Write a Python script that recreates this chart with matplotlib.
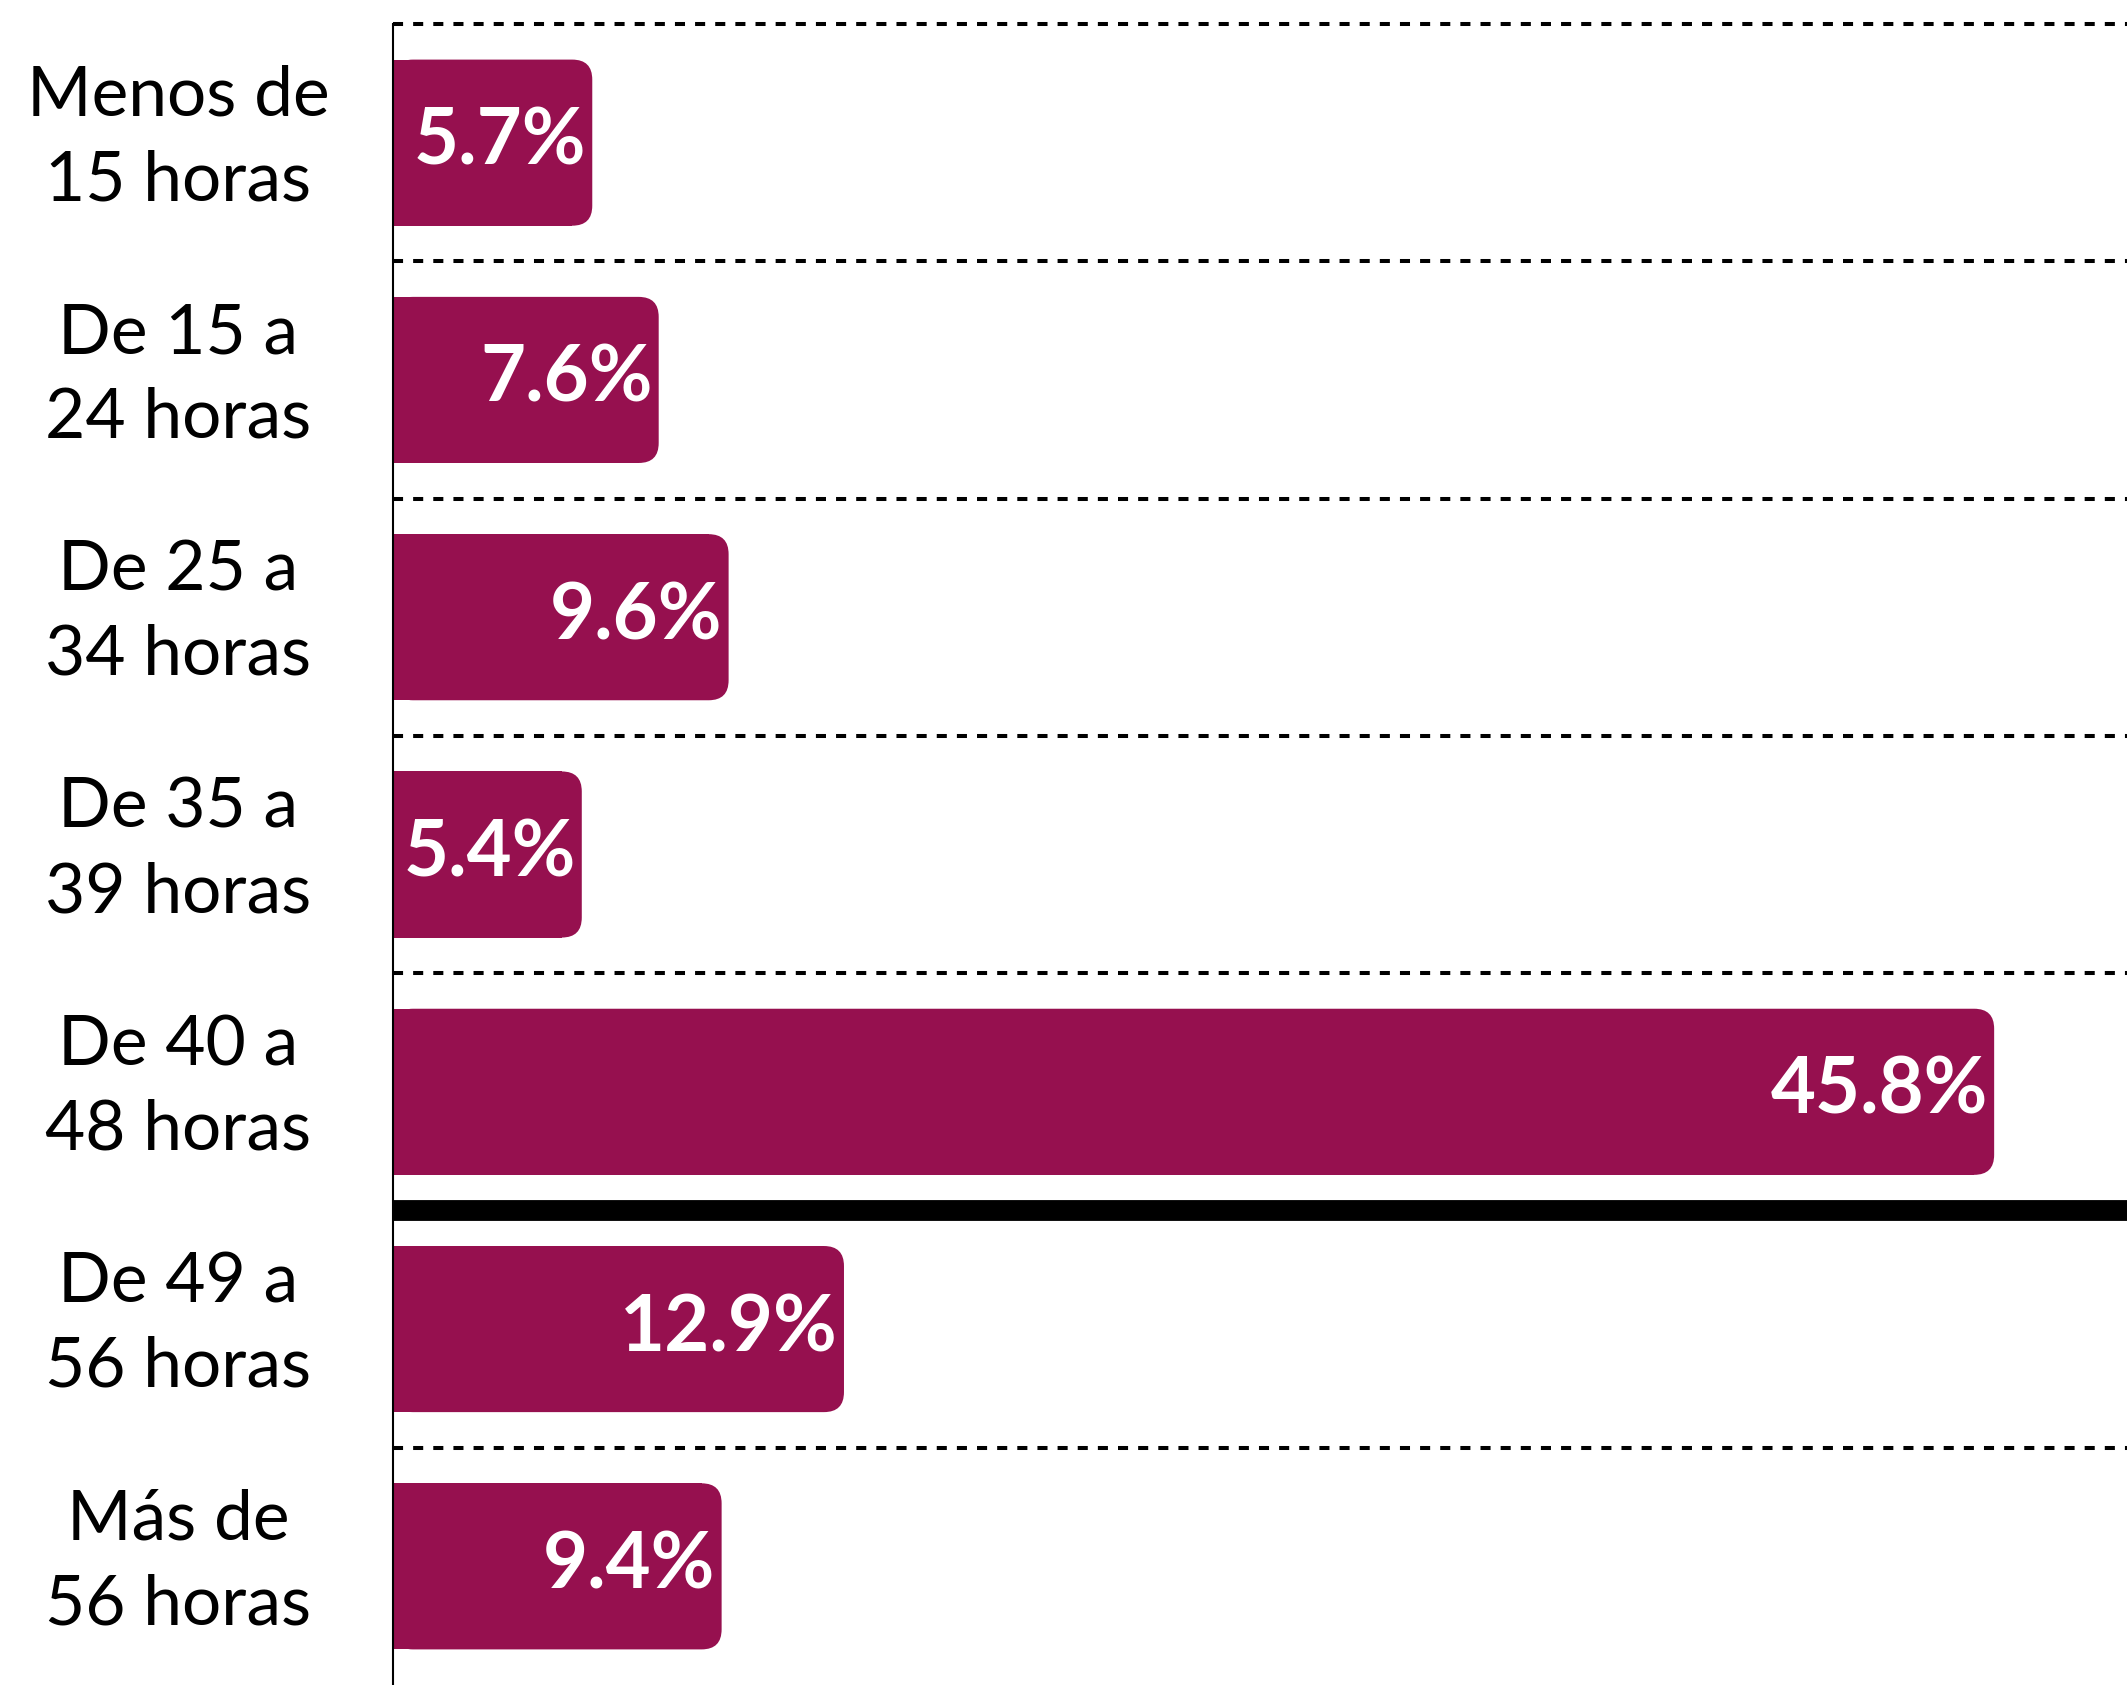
#!/usr/bin/env python3

import matplotlib
matplotlib.use('Agg')
import matplotlib.pyplot as plt
from matplotlib.patches import FancyBboxPatch

categories = ['Menos de\n15 horas', 'De 15 a\n24 horas', 'De 25 a\n34 horas',
              'De 35 a\n39 horas', 'De 40 a\n48 horas', 'De 49 a\n56 horas',
              'Más de\n56 horas']
values = [5.7, 7.6, 9.6, 5.4, 45.8, 12.9, 9.4]
labels = ['5.7%', '7.6%', '9.6%', '5.4%', '45.8%', '12.9%', '9.4%']

color = '#96104F'
plt.rcParams['font.family'] = ['Lato', 'DejaVu Sans']

W, H = 2127, 1685
fig = plt.figure(figsize=(W / 100, H / 100), dpi=100)
left = 393 / W
top = 1 - 24 / H
ax = fig.add_axes([left, 0, 1 - left, top])

xmax = 49.6
n = len(categories)
ax.set_xlim(0, xmax)
ax.set_ylim(n - 0.5, -0.5)

# pixel sizes of one data unit, for the rounded ends
px_x = W * (1 - left) / xmax
px_y = H * top / n
r = 20 / px_x
aspect = px_x / px_y

bar_h = 0.70
for i, v in enumerate(values):
    ax.barh(i, v - r, height=bar_h, color=color, linewidth=0)
    ax.add_patch(FancyBboxPatch((0, i - bar_h / 2), v, bar_h,
                                boxstyle='round,pad=0,rounding_size=%f' % r,
                                mutation_aspect=aspect,
                                facecolor=color, edgecolor='none'))
    ax.text(v - 6 / px_x, i, labels[i], ha='right', va='center',
            color='white', fontsize=56, fontweight='bold')

# category separators
for i in range(n):
    y = i - 0.5
    ax.axhline(y, color='black', lw=2.9, linestyle=(0, (2.5, 2.5)),
               clip_on=False, zorder=0)
ax.axhline(4.5, color='black', lw=15, zorder=3)

for i, c in enumerate(categories):
    fig.text(178 / W, 1 - (20 + px_y * (i + 0.5)) / H, c,
             ha='center', va='center', fontsize=50, linespacing=1.42,
             color='black')

ax.set_xticks([])
ax.set_yticks([])
for s in ['top', 'right', 'bottom']:
    ax.spines[s].set_visible(False)
ax.spines['left'].set_linewidth(1.5)
ax.spines['left'].set_zorder(5)

fig.savefig('out.png', dpi=100)
